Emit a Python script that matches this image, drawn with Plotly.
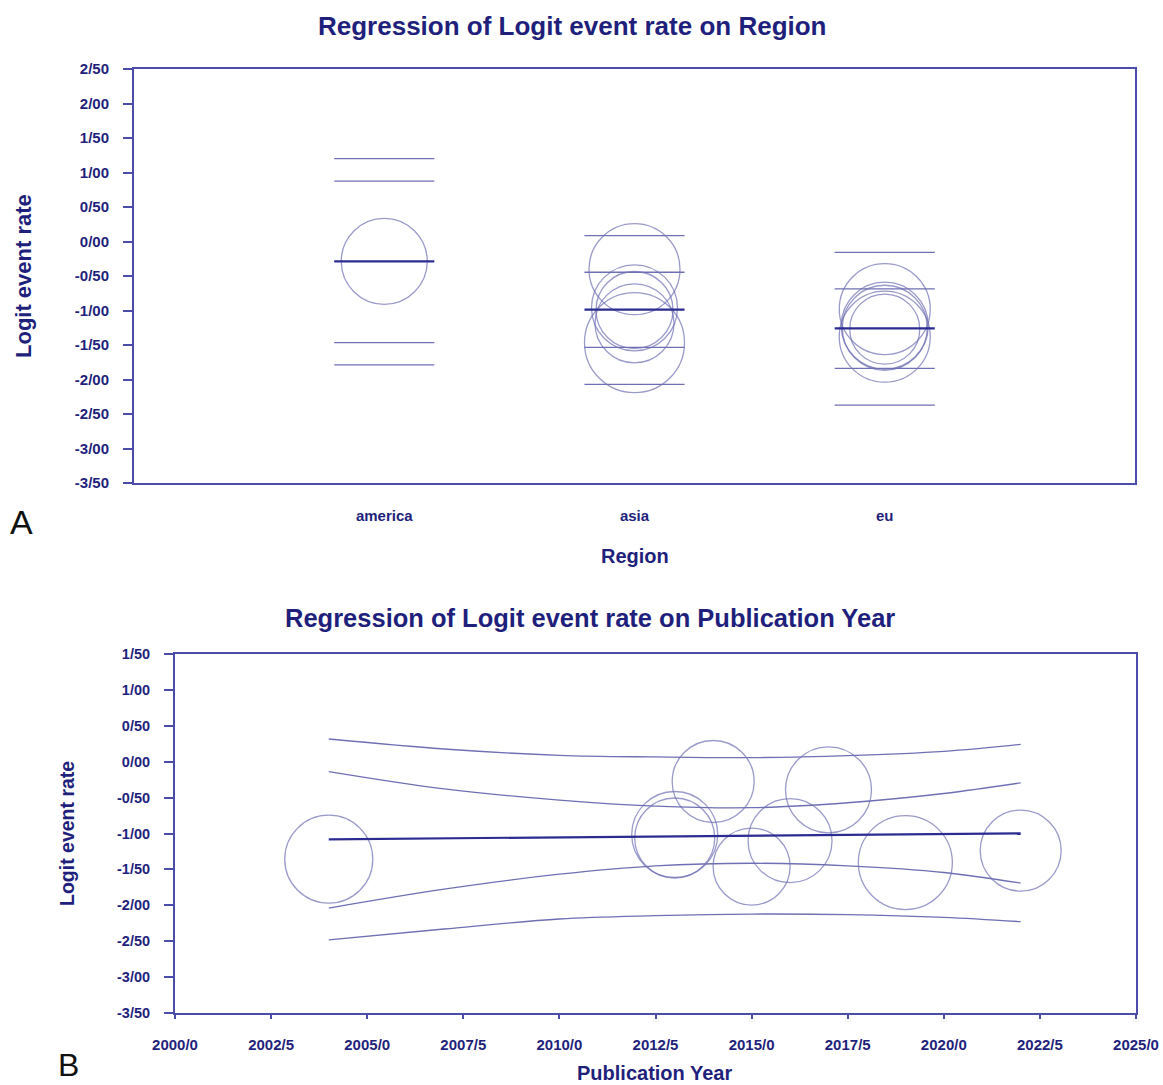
import plotly.graph_objects as go

# ---------------- DATA ----------------
# Panel A: regression on Region
regions = ["america", "asia", "eu"]
region_pred = [-0.288, -0.988, -1.258]
region_ci_lo = [-1.465, -1.533, -1.838]
region_ci_hi = [0.874, -0.446, -0.688]
region_pi_lo = [-1.789, -2.070, -2.370]
region_pi_hi = [1.200, 0.084, -0.157]

a_study_region = ["america", "asia", "asia", "asia", "asia", "asia",
                  "eu", "eu", "eu", "eu", "eu"]
a_study_logit = [-0.288, -0.401, -0.961, -0.993, -1.186, -1.466,
                 -0.980, -1.220, -1.250, -1.270, -1.380]
a_study_weight = [8.6, 9.1, 8.6, 7.7, 7.9, 10.0, 9.1, 8.7, 8.5, 7.0, 9.1]

a_y_tickvals = [2.5, 2.0, 1.5, 1.0, 0.5, 0.0, -0.5, -1.0, -1.5, -2.0, -2.5, -3.0, -3.5]
a_y_ticktext = ["2/50", "2/00", "1/50", "1/00", "0/50", "0/00", "-0/50", "-1/00",
                "-1/50", "-2/00", "-2/50", "-3/00", "-3/50"]

# Panel B: regression on Publication Year
b_study_year = [2004, 2013, 2013, 2014, 2015, 2016, 2017, 2019, 2022]
b_study_logit = [-1.358, -1.014, -1.063, -0.276, -1.460, -1.100, -0.392, -1.405, -1.238]
b_study_weight = [8.8, 8.6, 8.0, 8.2, 7.7, 8.4, 8.6, 9.4, 8.1]

b_line_year = [2004, 2022]
b_line_logit = [-1.081, -0.998]

b_curve_year = [2004, 2007, 2010, 2012.5, 2015, 2017.5, 2020, 2022]
b_upper_pi = [0.316, 0.177, 0.089, 0.066, 0.057, 0.085, 0.145, 0.242]
b_upper_ci = [-0.137, -0.378, -0.535, -0.618, -0.641, -0.572, -0.443, -0.295]
b_lower_ci = [-2.038, -1.775, -1.567, -1.451, -1.414, -1.451, -1.543, -1.691]
b_lower_pi = [-2.482, -2.330, -2.191, -2.145, -2.122, -2.130, -2.168, -2.228]

b_x_tickvals = [2000, 2002.5, 2005, 2007.5, 2010, 2012.5, 2015, 2017.5, 2020, 2022.5, 2025]
b_x_ticktext = ["2000/0", "2002/5", "2005/0", "2007/5", "2010/0", "2012/5",
                "2015/0", "2017/5", "2020/0", "2022/5", "2025/0"]
b_y_tickvals = [1.5, 1.0, 0.5, 0.0, -0.5, -1.0, -1.5, -2.0, -2.5, -3.0, -3.5]
b_y_ticktext = ["1/50", "1/00", "0/50", "0/00", "-0/50", "-1/00", "-1/50",
                "-2/00", "-2/50", "-3/00", "-3/50"]

# ---------------- STYLE ----------------
TEXT = "#1f1f7c"
AXIS = "#4c4cab"
THIN = "#6f6fb4"
THICK = "#2b2b92"
FONT = "Liberation Sans, Arial, sans-serif"
SEG_HALF = 0.2
SIZEREF = 0.1

W, H = 1163, 1085

fig = go.Figure()

# ---- Panel A ----
reg_pos = {r: i + 1 for i, r in enumerate(regions)}
fig.add_trace(go.Scatter(
    x=[reg_pos[r] for r in a_study_region], y=a_study_logit, mode="markers",
    marker=dict(symbol="circle-open", size=a_study_weight, sizemode="diameter",
                sizeref=SIZEREF, color=THIN, line=dict(width=1.3, color=THIN)),
    xaxis="x", yaxis="y", showlegend=False, hoverinfo="skip"))

def seg_xy(values):
    xs, ys = [], []
    for i, v in enumerate(values):
        c = i + 1
        xs += [c - SEG_HALF, c + SEG_HALF, None]
        ys += [v, v, None]
    return xs, ys

for arr in (region_ci_lo, region_ci_hi, region_pi_lo, region_pi_hi):
    xs, ys = seg_xy(arr)
    fig.add_trace(go.Scatter(x=xs, y=ys, mode="lines",
                             line=dict(color=THIN, width=1.3),
                             xaxis="x", yaxis="y", showlegend=False, hoverinfo="skip"))
xs, ys = seg_xy(region_pred)
fig.add_trace(go.Scatter(x=xs, y=ys, mode="lines", line=dict(color=THICK, width=2.2),
                         xaxis="x", yaxis="y", showlegend=False, hoverinfo="skip"))

# ---- Panel B ----
fig.add_trace(go.Scatter(
    x=b_study_year, y=b_study_logit, mode="markers",
    marker=dict(symbol="circle-open", size=b_study_weight, sizemode="diameter",
                sizeref=SIZEREF, color=THIN, line=dict(width=1.3, color=THIN)),
    xaxis="x2", yaxis="y2", showlegend=False, hoverinfo="skip"))
for arr in (b_upper_pi, b_upper_ci, b_lower_ci, b_lower_pi):
    fig.add_trace(go.Scatter(x=b_curve_year, y=arr, mode="lines",
                             line=dict(color=THIN, width=1.3, shape="spline", smoothing=1.0),
                             xaxis="x2", yaxis="y2", showlegend=False, hoverinfo="skip"))
fig.add_trace(go.Scatter(x=b_line_year, y=b_line_logit, mode="lines",
                         line=dict(color=THICK, width=2.2),
                         xaxis="x2", yaxis="y2", showlegend=False, hoverinfo="skip"))

# ---------------- LAYOUT ----------------
def px_x(p):  # window pixel -> paper fraction
    return p / W

def px_y(p):
    return 1 - p / H

def tf(size):
    return dict(family=FONT, size=size, color=TEXT, weight="bold")

common = dict(showline=True, linecolor=AXIS, linewidth=2, mirror=True,
              showgrid=False, zeroline=False, automargin=False,
              tickcolor=AXIS, tickwidth=2, tickmode="array",
              ticklabeloverflow="allow")

fig.update_layout(
    template="none",
    width=W, height=H, autosize=False,
    margin=dict(l=0, r=0, t=0, b=0, pad=0, autoexpand=False),
    paper_bgcolor="white", plot_bgcolor="white", showlegend=False,
    xaxis=dict(domain=[px_x(134), px_x(1135)], range=[0, 4],
               tickvals=[1, 2, 3], ticktext=regions, tickfont=tf(15),
               ticks="", ticklabelstandoff=18, anchor="y", **common),
    yaxis=dict(domain=[px_y(483), px_y(69)], range=[-3.5, 2.5],
               tickvals=a_y_tickvals, ticktext=a_y_ticktext, tickfont=tf(15),
               ticks="outside", ticklen=9, ticklabelstandoff=11, anchor="x", **common),
    xaxis2=dict(domain=[px_x(175), px_x(1136)], range=[2000, 2025],
                tickvals=b_x_tickvals, ticktext=b_x_ticktext, tickfont=tf(15),
                ticks="outside", ticklen=4, ticklabelstandoff=13, anchor="y2", **common),
    yaxis2=dict(domain=[px_y(1013), px_y(654)], range=[-3.5, 1.5],
                tickvals=b_y_tickvals, ticktext=b_y_ticktext, tickfont=tf(14.5),
                ticks="outside", ticklen=9, ticklabelstandoff=11, anchor="x2", **common),
)

def ann(text, x, y, size, color=TEXT, bold=True, angle=0, family=FONT):
    fig.add_annotation(text=text, x=px_x(x), y=px_y(y), xref="paper", yref="paper",
                       showarrow=False, xanchor="center", yanchor="middle",
                       textangle=angle,
                       font=dict(family=family, size=size, color=color,
                                 weight="bold" if bold else "normal"))

ann("Regression of Logit event rate on Region", 572, 26, 26)
ann("Regression of Logit event rate on Publication Year", 590, 618, 25.5)
ann("Logit event rate", 24, 276, 22, angle=-90)
ann("Logit event rate", 67, 834, 19.5, angle=-90)
ann("Region", 635, 556, 20)
ann("Publication Year", 654, 1073, 20)
ann("A", 21, 522, 34, color="#111111", bold=False)
ann("B", 68, 1065, 32, color="#111111", bold=False)

# remove the default page margin so the figure fills the window exactly
fig.write_html("out.html",
               config={"displayModeBar": False},
               post_script="document.body.style.margin='0';"
                           "document.body.style.overflow='hidden';")
